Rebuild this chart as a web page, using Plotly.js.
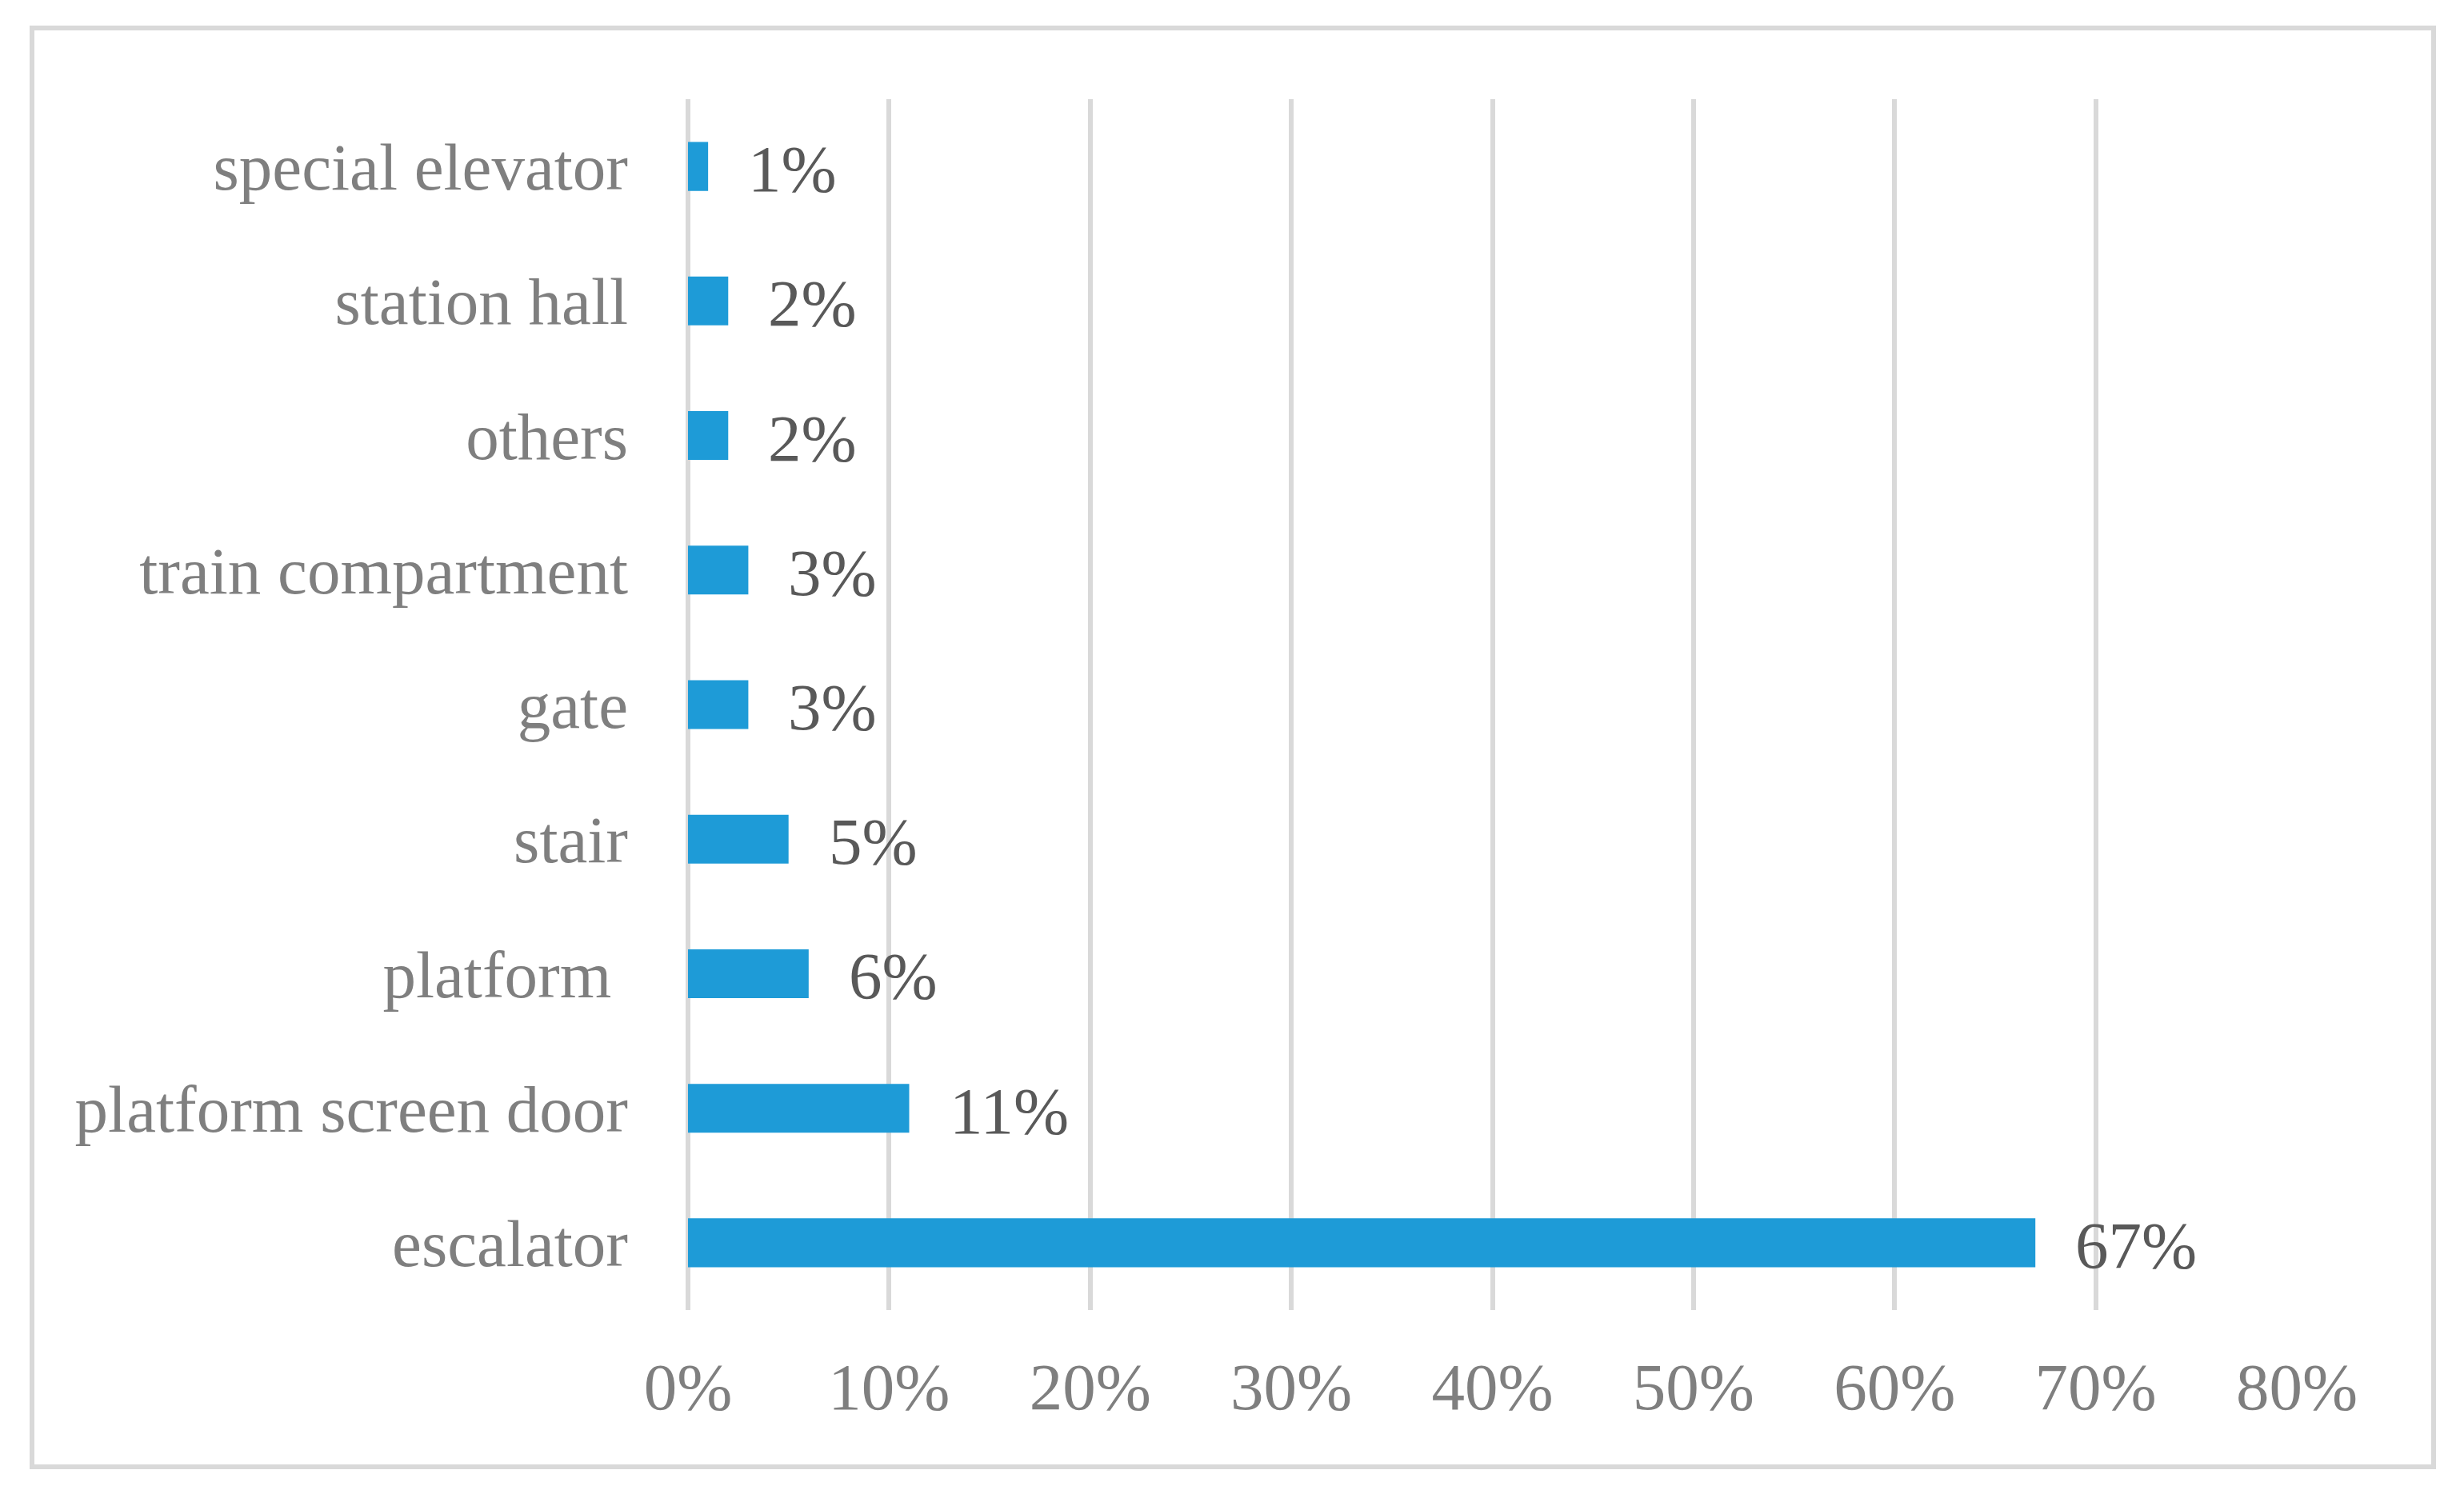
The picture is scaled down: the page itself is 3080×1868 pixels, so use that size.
<!DOCTYPE html>
<html>
<head>
<meta charset="utf-8">
<script src="https://cdn.plot.ly/plotly-3.0.1.min.js"></script>
<style>
  html, body { margin: 0; padding: 0; background: #fff; }
  #chart { width: 3080px; height: 1868px; }
</style>
</head>
<body>
<div id="chart"></div>
<script>
// Accident locations, share of cases (%) — listed top to bottom
const locations = [
  'special elevator',
  'station hall',
  'others',
  'train compartment',
  'gate',
  'stair',
  'platform\u00a0',
  'platform screen door',
  'escalator',
];
const shares = [1, 2, 2, 3, 3, 5, 6, 11, 67];
const xTicks = [0, 10, 20, 30, 40, 50, 60, 70, 80];
const xTickText = xTicks.map((t) => t + '%');

const W = 3080, H = 1868;
const margin = { l: 860, r: 209, t: 124, b: 230 };
const plotW = W - margin.l - margin.r;
const plotH = H - margin.t - margin.b;

// pixel -> paper coords, for the outer chart frame
const px = (x) => (x - margin.l) / plotW;
const py = (y) => 1 - (y - margin.t) / plotH;

const font = 'Liberation Serif, Times New Roman, serif';
const fs = 83;

const bars = {
  type: 'bar',
  orientation: 'h',
  x: shares,
  y: locations,
  marker: { color: '#1e9bd7', line: { width: 0 } },
  hoverinfo: 'skip',
  showlegend: false,
};

// value labels sit just past the bar end
const labels = shares.map((v, i) => ({
  x: v,
  y: locations[i],
  xref: 'x',
  yref: 'y',
  text: v + '%',
  showarrow: false,
  xanchor: 'left',
  yanchor: 'middle',
  xshift: 48,
  yshift: -3,
  font: { family: font, size: fs, color: '#595959' },
}));

const layout = {
  width: W,
  height: H,
  margin: margin,
  paper_bgcolor: '#fff',
  plot_bgcolor: '#fff',
  bargap: 0.637,
  font: { family: font, size: fs, color: '#7f7f7f' },
  xaxis: {
    range: [0, 80],
    tickmode: 'array',
    tickvals: xTicks,
    ticktext: xTickText,
    showgrid: true,
    gridcolor: '#d9d9d9',
    gridwidth: 6,
    zeroline: true,
    zerolinecolor: '#d9d9d9',
    zerolinewidth: 6,
    showline: false,
    ticks: '',
    ticklabelstandoff: 40,
    tickfont: { family: font, size: fs, color: '#7f7f7f' },
    fixedrange: true,
  },
  yaxis: {
    autorange: 'reversed',
    showgrid: false,
    zeroline: false,
    showline: false,
    ticks: '',
    ticklabelstandoff: 74,
    tickfont: { family: font, size: fs, color: '#7f7f7f' },
    fixedrange: true,
  },
  annotations: labels,
  shapes: [{
    type: 'rect',
    xref: 'paper',
    yref: 'paper',
    x0: px(40), x1: px(3042),
    y0: py(1834), y1: py(35),
    line: { color: '#d9d9d9', width: 6 },
    fillcolor: 'rgba(0,0,0,0)',
    layer: 'below',
  }],
};

Plotly.newPlot('chart', [bars], layout, { displayModeBar: false, staticPlot: true });
</script>
</body>
</html>
